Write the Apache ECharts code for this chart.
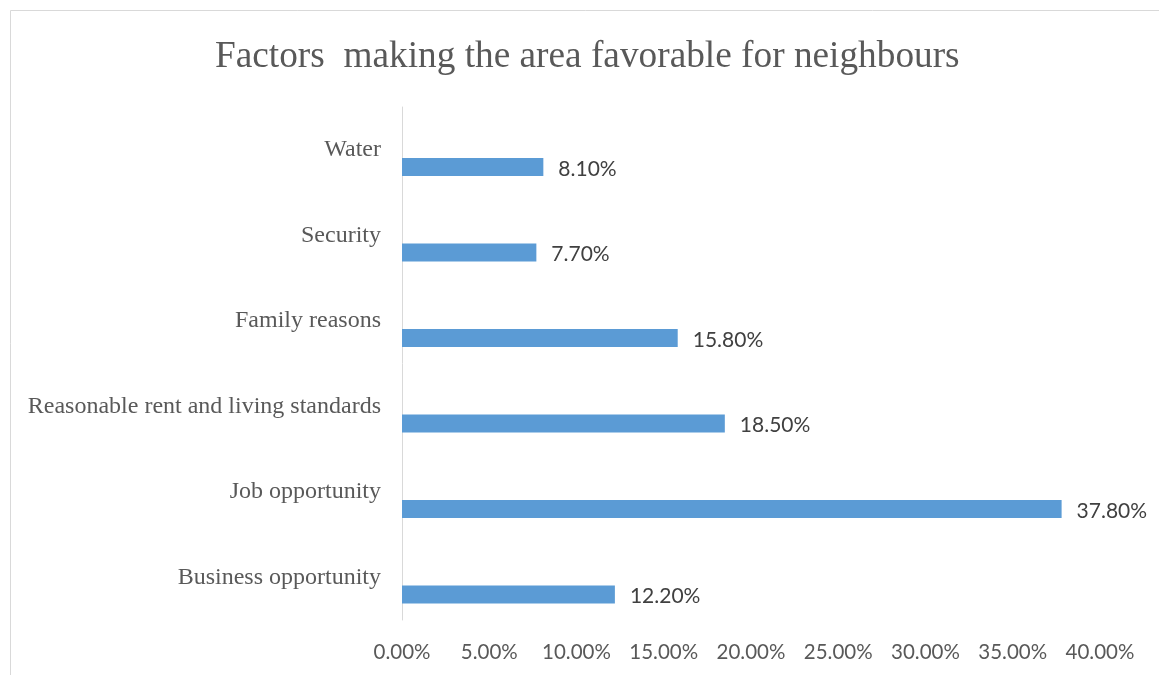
<!DOCTYPE html>
<html>
<head>
<meta charset="utf-8">
<script src="https://cdn.jsdelivr.net/npm/echarts@6/dist/echarts.min.js"></script>
<style>
  html, body { margin: 0; padding: 0; background: #ffffff; }
  #chart { width: 1159px; height: 675px; }
</style>
</head>
<body>
<div id="chart"></div>
<script>
// Categories listed bottom to top
const categories = [
  'Business opportunity',
  'Job opportunity',
  'Reasonable rent and living standards',
  'Family reasons',
  'Security',
  'Water'
];
// Share of respondents, in percent
const shares = [12.2, 37.8, 18.5, 15.8, 7.7, 8.1];
// Placeholder series that holds the upper slot of each category band
const placeholder = [null, null, null, null, null, null];
const tickMax = 40;
const tickStep = 5;

const chart = echarts.init(document.getElementById('chart'), null, { renderer: 'canvas' });

chart.setOption({
  backgroundColor: '#ffffff',
  animation: false,
  graphic: [{
    type: 'rect',
    shape: { x: 10.5, y: 10.5, width: 1300, height: 800 },
    style: { fill: 'none', stroke: '#d9d9d9', lineWidth: 1 },
    silent: true,
    z: -1
  }],
  title: {
    text: 'Factors  making the area favorable for neighbours',
    left: 210,
    top: 34,
    textStyle: {
      fontFamily: '"Liberation Serif", "DejaVu Serif", serif',
      fontSize: 37.3,
      fontWeight: 'normal',
      color: '#595959'
    }
  },
  grid: { left: 402, right: 59, top: 107, bottom: 55, containLabel: false },
  xAxis: {
    type: 'value',
    min: 0,
    max: tickMax,
    interval: tickStep,
    axisLine: { show: false },
    axisTick: { show: false },
    splitLine: { show: false },
    axisLabel: {
      margin: 22,
      fontFamily: 'Lato, "Noto Sans", sans-serif',
      fontSize: 20.5,
      color: '#595959',
      formatter: v => v.toFixed(2) + '%'
    }
  },
  yAxis: {
    type: 'category',
    data: categories,
    axisLine: { show: true, lineStyle: { color: '#d9d9d9', width: 1 } },
    axisTick: { show: false },
    axisLabel: {
      margin: 21,
      fontFamily: '"Liberation Serif", "DejaVu Serif", serif',
      fontSize: 24,
      color: '#595959'
    }
  },
  series: [
    {
      name: 'spacer',
      type: 'bar',
      data: placeholder,
      barWidth: 18,
      barGap: '92%',
      silent: true
    },
    {
      name: 'Share',
      type: 'bar',
      data: shares,
      barWidth: 18,
      barGap: '92%',
      itemStyle: { color: '#5b9bd5' },
      label: {
        show: true,
        position: 'right',
        distance: 15,
        offset: [0, 2],
        fontFamily: 'Lato, "Noto Sans", sans-serif',
        fontSize: 21,
        color: '#404040',
        formatter: p => p.value.toFixed(2) + '%'
      }
    }
  ]
});
</script>
</body>
</html>
